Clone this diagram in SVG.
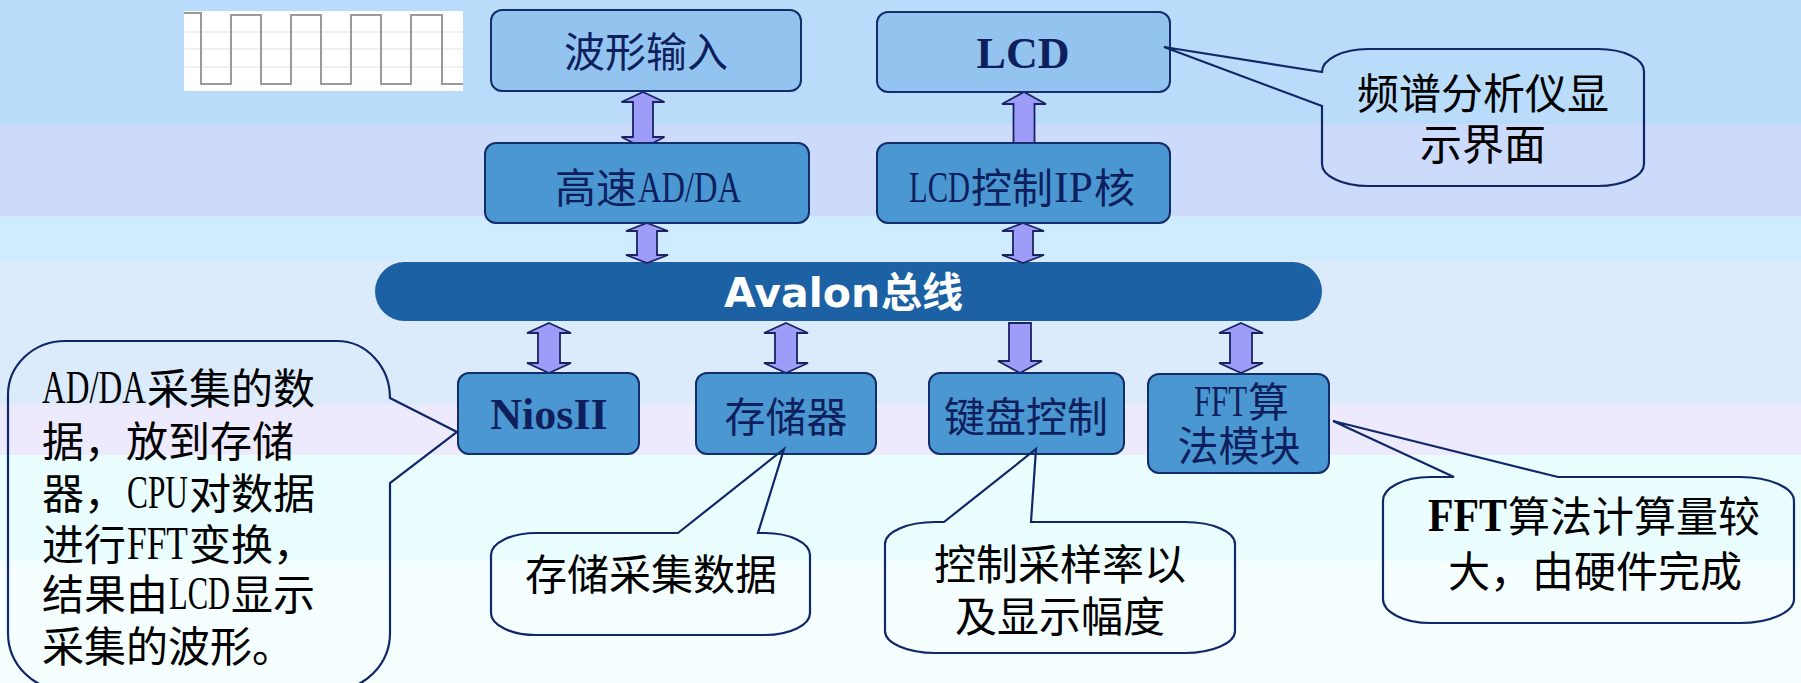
<svg xmlns="http://www.w3.org/2000/svg" width="1801" height="683" viewBox="0 0 1801 683">
<style>
.node{stroke:#132C6B;stroke-width:2}
.light{fill:#93C4EF}
.dark{fill:#4A97D1}
.nt{font-family:"Noto Sans CJK SC","Liberation Serif",sans-serif;font-size:41px;fill:#0F1F5E}
.nl{font-family:"Liberation Serif",serif;font-size:44px;fill:#0F1F5E}
.arrow{fill:#9E9CF9;stroke:#1B2362;stroke-width:1.8;stroke-linejoin:miter}
.callout{fill:none;stroke:#10286A;stroke-width:2.2;stroke-linejoin:miter}
.ct{font-family:"Noto Sans CJK SC","Liberation Serif",sans-serif;font-size:42px;fill:#000}
.cl{font-family:"Liberation Serif",serif;font-size:47px;fill:#000}
</style>
<g id="background">
<rect x="0" y="0" width="1801" height="124" fill="#BADCFB"/>
<rect x="0" y="124" width="1801" height="92" fill="#CCDBFB"/>
<rect x="0" y="216" width="1801" height="44" fill="#CFEBFE"/>
<rect x="0" y="260" width="1801" height="145" fill="#DBEBFC"/>
<rect x="0" y="405" width="1801" height="50" fill="#ECEAFC"/>
<rect x="0" y="455" width="1801" height="106" fill="#EAFDFF"/>
<rect x="0" y="561" width="1801" height="122" fill="#F6FFFF"/>
</g>
<g id="waveform">
<rect x="184" y="11" width="279" height="80" fill="#FFFFFF"/>
<g stroke="#ECECEC" stroke-width="1.5">
<line x1="184" y1="32" x2="463" y2="32"/>
<line x1="184" y1="49" x2="463" y2="49"/>
<line x1="184" y1="67" x2="463" y2="67"/>
</g>
<path d="M184,13 H201 V84 H231 V15 H261 V84 H291 V15 H321 V84 H351 V15 H381 V84 H411 V15 H442 V84 H463" fill="none" stroke="#9A9A9A" stroke-width="2"/>
</g>
<g id="bus">
<rect x="375" y="262" width="947" height="59" rx="29.5" fill="#1B61A3"/>
<text x="724" y="307" fill="#FFFFFF" font-size="41" font-weight="bold" font-family="'DejaVu Sans','Noto Sans CJK SC',sans-serif">Avalon<tspan dx="1" font-family="'Noto Sans CJK SC',sans-serif">总线</tspan></text>
</g>
<g id="connectors">
<path class="arrow" d="M643,92 L664.5,102 L653,102 L653,137 L664.5,137 L643,148 L621.5,137 L633,137 L633,102 L621.5,102 Z"/>
<path class="arrow" d="M647,223 L668,231 L657,231 L657,255 L668,255 L647,263 L626,255 L637,255 L637,231 L626,231 Z"/>
<path class="arrow" d="M1024,92 L1046,104 L1034.5,104 L1034.5,143 L1013.5,143 L1013.5,104 L1002,104 Z"/>
<path class="arrow" d="M1023,223 L1044,231 L1033,231 L1033,255 L1044,255 L1023,263 L1002,255 L1013,255 L1013,231 L1002,231 Z"/>
<path class="arrow" d="M549,323 L571,333 L560,333 L560,363 L571,363 L549,373 L527,363 L538,363 L538,333 L527,333 Z"/>
<path class="arrow" d="M786,323 L808,333 L797,333 L797,363 L808,363 L786,373 L764,363 L775,363 L775,333 L764,333 Z"/>
<path class="arrow" d="M1009,323 L1031,323 L1031,361 L1042,361 L1020,373 L998,361 L1009,361 Z"/>
<path class="arrow" d="M1241,323 L1263,333 L1252,333 L1252,363 L1263,363 L1241,373 L1219,363 L1230,363 L1230,333 L1219,333 Z"/>
</g>
<g id="node-wave-input">
<rect class="node light" x="491" y="10" width="310" height="81" rx="11"/>
<text class="nt" x="646" y="67" text-anchor="middle" font-size="42">波形输入</text>
</g>
<g id="node-lcd">
<rect class="node light" x="877" y="12" width="293" height="80" rx="11"/>
<text class="nl" x="1023" y="68" text-anchor="middle" font-size="43" font-weight="bold">LCD</text>
</g>
<g id="node-adda">
<rect class="node dark" x="485" y="143" width="324" height="80" rx="11"/>
<text class="nt" x="555" y="203">高速</text>
<text class="nl" x="638" y="202" textLength="103" lengthAdjust="spacingAndGlyphs">AD/DA</text>
</g>
<g id="node-lcd-ip">
<rect class="node dark" x="877" y="143" width="293" height="80" rx="11"/>
<text class="nl" x="909" y="202" textLength="61" lengthAdjust="spacingAndGlyphs">LCD</text>
<text class="nt" x="971" y="203">控制</text>
<text class="nl" x="1054" y="202" textLength="39" lengthAdjust="spacingAndGlyphs">IP</text>
<text class="nt" x="1094" y="203">核</text>
</g>
<g id="node-nios">
<rect class="node dark" x="458" y="373" width="181" height="81" rx="11"/>
<text class="nl" x="549" y="429" text-anchor="middle" font-size="43" font-weight="bold">NiosII</text>
</g>
<g id="node-memory">
<rect class="node dark" x="696" y="373" width="180" height="81" rx="11"/>
<text class="nt" x="786" y="432" text-anchor="middle">存储器</text>
</g>
<g id="node-keyboard">
<rect class="node dark" x="929" y="373" width="195" height="81" rx="11"/>
<text class="nt" x="1026" y="432" text-anchor="middle">键盘控制</text>
</g>
<g id="node-fft">
<rect class="node dark" x="1148" y="374" width="181" height="99" rx="11"/>
<text class="nl" x="1194" y="416" font-size="39" textLength="53" lengthAdjust="spacingAndGlyphs">FFT</text>
<text class="nt" x="1248" y="417" font-size="36">算</text>
<text class="nt" x="1239" y="461" text-anchor="middle" font-size="36">法模块</text>
</g>
<g id="callout-spectrum">
<path class="callout" d="M1368,49 L1598,49 A46,22 0 0 1 1644,71 L1644,164 A46,22 0 0 1 1598,186 L1368,186 A46,22 0 0 1 1322,164 L1322,106 L1164,47 L1322,72 A46,23 0 0 1 1368,49 Z"/>
<text class="ct" x="1483" y="109" text-anchor="middle">频谱分析仪显</text>
<text class="ct" x="1483" y="160" text-anchor="middle">示界面</text>
</g>
<g id="callout-adda">
<path class="callout" d="M65,341 L337,341 A53,57 0 0 1 390,398 L457,432 L390,483 L390,633 A57,57 0 0 1 333,690 L65,690 A57,57 0 0 1 8,633 L8,395 A57,54 0 0 1 65,341 Z"/>
<text class="cl" x="42" y="403" textLength="104" lengthAdjust="spacingAndGlyphs">AD/DA</text>
<text class="ct" x="147" y="404">采集的数</text>
<text class="ct" x="42" y="457">据，放到存储</text>
<text class="ct" x="42" y="509">器，</text>
<text class="cl" x="127" y="508" textLength="61" lengthAdjust="spacingAndGlyphs">CPU</text>
<text class="ct" x="189" y="509">对数据</text>
<text class="ct" x="42" y="560">进行</text>
<text class="cl" x="127" y="559" textLength="61" lengthAdjust="spacingAndGlyphs">FFT</text>
<text class="ct" x="189" y="560">变换，</text>
<text class="ct" x="42" y="610">结果由</text>
<text class="cl" x="169" y="609" textLength="61" lengthAdjust="spacingAndGlyphs">LCD</text>
<text class="ct" x="231" y="610">显示</text>
<text class="ct" x="42" y="662">采集的波形。</text>
</g>
<g id="callout-memory">
<path class="callout" d="M536,533 L678,533 L784,449 L758,533 L765,533 A45,22 0 0 1 810,555 L810,613 A45,22 0 0 1 765,635 L536,635 A45,22 0 0 1 491,613 L491,555 A45,22 0 0 1 536,533 Z"/>
<text class="ct" x="651" y="590" text-anchor="middle">存储采集数据</text>
</g>
<g id="callout-keyboard">
<path class="callout" d="M935,522 L944,522 L1036,449 L1031,522 L1185,522 A50,22 0 0 1 1235,544 L1235,631 A50,22 0 0 1 1185,653 L935,653 A50,22 0 0 1 885,631 L885,544 A50,22 0 0 1 935,522 Z"/>
<text class="ct" x="1060" y="580" text-anchor="middle">控制采样率以</text>
<text class="ct" x="1060" y="632" text-anchor="middle">及显示幅度</text>
</g>
<g id="callout-fft">
<path class="callout" d="M1430,477 L1454,477 L1333,421 L1558,477 L1740,477 A54,24 0 0 1 1794,501 L1794,599 A54,24 0 0 1 1740,623 L1430,623 A47,24 0 0 1 1383,599 L1383,501 A47,24 0 0 1 1430,477 Z"/>
<text class="cl" x="1428" y="531" font-size="43" font-weight="bold" textLength="79" lengthAdjust="spacingAndGlyphs">FFT</text>
<text class="ct" x="1508" y="532">算法计算量较</text>
<text class="ct" x="1595" y="587" text-anchor="middle">大，由硬件完成</text>
</g>
</svg>
